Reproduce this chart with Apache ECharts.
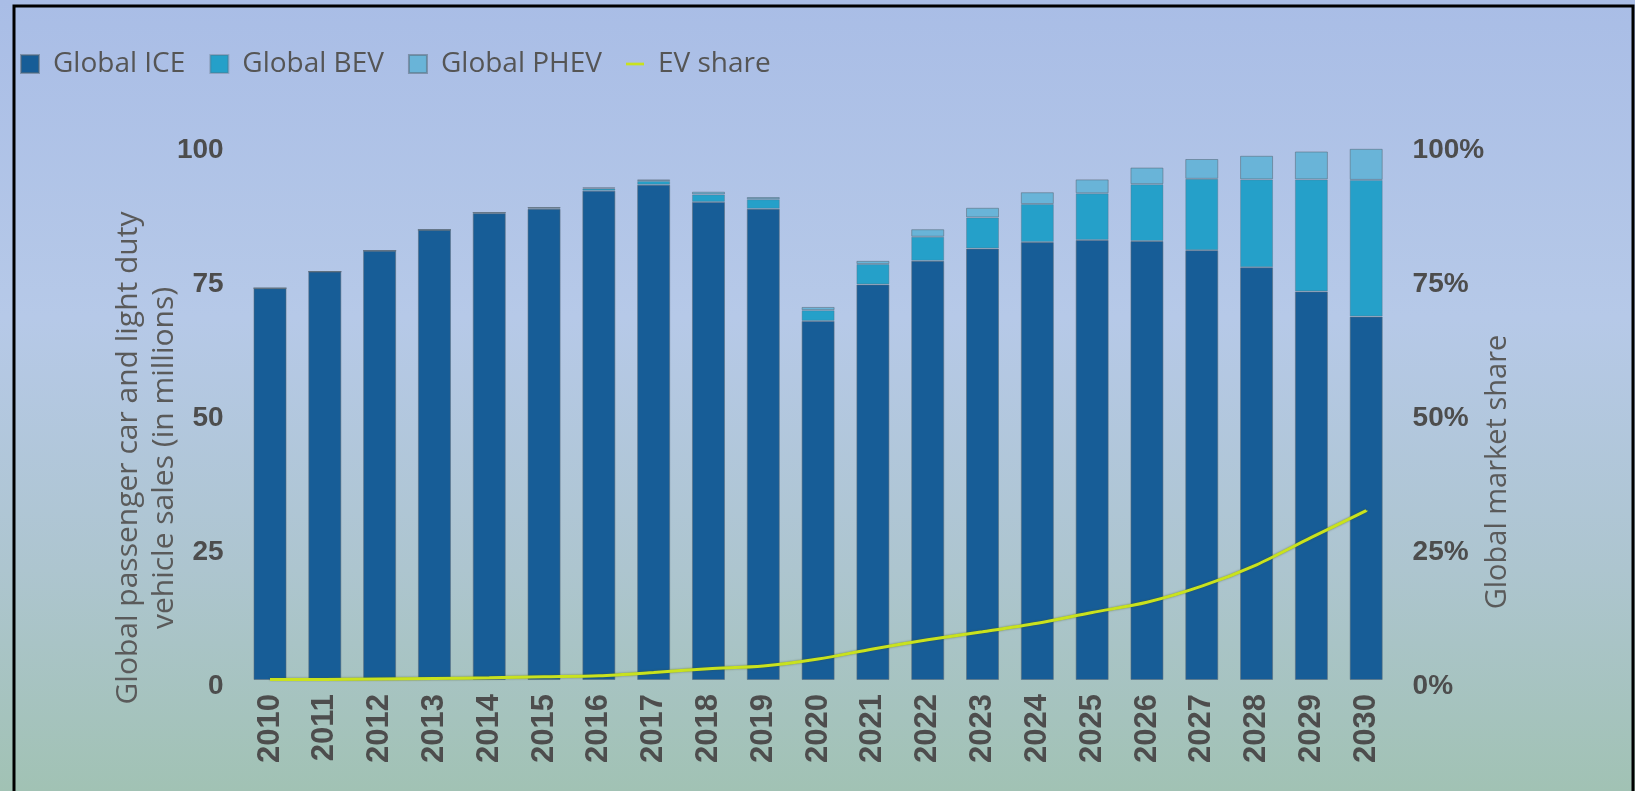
<!DOCTYPE html>
<html>
<head>
<meta charset="utf-8">
<style>
  html, body { margin: 0; padding: 0; }
  #main { width: 1635px; height: 791px; }
</style>
</head>
<body>
<div id="main"></div>
<script src="https://cdn.jsdelivr.net/npm/echarts@6/dist/echarts.min.js"></script>
<script type="text/javascript">
    // data (millions of vehicles, share in %)
    var years = ['2010', '2011', '2012', '2013', '2014', '2015', '2016', '2017', '2018', '2019', '2020',
                 '2021', '2022', '2023', '2024', '2025', '2026', '2027', '2028', '2029', '2030'];
    var iceSales  = [73.1, 76.2, 80.1, 84.0, 87.1, 87.9, 91.3, 92.4, 89.2, 87.9, 67.0,
                     73.8, 78.2, 80.5, 81.7, 82.1, 81.9, 80.2, 77.0, 72.5, 67.8];
    var bevSales  = [0, 0, 0, 0, 0.1, 0.2, 0.4, 0.7, 1.4, 1.8, 2.0,
                     3.8, 4.5, 5.8, 7.1, 8.7, 10.6, 13.3, 16.4, 20.9, 25.5];
    var phevSales = [0, 0, 0, 0, 0, 0.1, 0.2, 0.3, 0.5, 0.4, 0.6,
                     0.6, 1.4, 1.8, 2.2, 2.6, 3.1, 3.7, 4.4, 5.2, 5.8];
    var evShare   = [0.1, 0.1, 0.2, 0.3, 0.4, 0.6, 0.8, 1.4, 2.1, 2.6, 3.9,
                     5.8, 7.5, 9.0, 10.6, 12.6, 14.5, 17.5, 21.5, 26.6, 31.6];

    var boldFont = '"Liberation Sans", Arial, sans-serif';
    var plain = '"Open Sans", "Noto Sans", sans-serif';

    var myChart = echarts.init(document.getElementById('main'));

    // tick labels sit a little below their ticks in the original
    var tickRich = {
        t: {
            fontFamily: boldFont,
            fontWeight: 'bold',
            fontSize: 28,
            color: '#4d4d4d',
            padding: [13, 0, 0, 0]
        }
    };

    var option = {
        animation: false,
        backgroundColor: {
            type: 'linear', x: 0, y: 0, x2: 0, y2: 1,
            colorStops: [
                {offset: 0, color: '#a9bde6'},
                {offset: 0.4, color: '#b6c9e8'},
                {offset: 0.72, color: '#adc5cf'},
                {offset: 1, color: '#a1c2b4'}
            ]
        },
        graphic: [
            {
                type: 'rect',
                shape: {x: 14, y: 6, width: 1619, height: 900},
                style: {fill: 'none', stroke: '#000', lineWidth: 3},
                silent: true
            }
        ],
        legend: {
            left: 15,
            top: 45,
            itemWidth: 18,
            itemHeight: 18,
            itemGap: 24,
            textStyle: {
                fontFamily: plain,
                fontSize: 28,
                color: '#555',
                padding: [0, 0, 0, 9]
            },
            data: [
                {name: 'Global ICE', icon: 'rect'},
                {name: 'Global BEV', icon: 'rect'},
                {name: 'Global PHEV', icon: 'rect'},
                {name: 'EV share', icon: 'path://M0,0H20V3H0Z'}
            ]
        },
        grid: {
            left: 242.6,
            right: 241.4,
            top: 144,
            bottom: 111
        },
        xAxis: {
            type: 'category',
            data: years,
            axisLine: {show: false},
            axisTick: {show: false},
            axisLabel: {
                rotate: 90,
                margin: 14,
                fontFamily: boldFont,
                fontWeight: 'bold',
                fontSize: 31,
                color: '#4d4d4d'
            }
        },
        yAxis: [
            {
                type: 'value',
                min: 0,
                max: 100,
                interval: 25,
                splitLine: {show: false},
                axisLine: {show: false},
                axisTick: {show: false},
                axisLabel: {
                    margin: 19,
                    formatter: function (v) { return '{t|' + v + '}'; },
                    rich: tickRich
                },
                name: 'Global passenger car and light duty\nvehicle sales (in millions)',
                nameLocation: 'middle',
                nameRotate: 90,
                nameGap: 60,
                nameMoveOverlap: false,
                nameTextStyle: {
                    fontFamily: plain,
                    fontSize: 30,
                    lineHeight: 36,
                    color: '#5a5a5a',
                    padding: [0, 92, 0, 0]
                }
            },
            {
                type: 'value',
                min: 0,
                max: 100,
                interval: 25,
                position: 'right',
                splitLine: {show: false},
                axisLine: {show: false},
                axisTick: {show: false},
                axisLabel: {
                    margin: 19,
                    formatter: function (v) { return '{t|' + v + '%}'; },
                    rich: tickRich
                },
                name: 'Global market share',
                nameLocation: 'middle',
                nameRotate: 90,
                nameGap: 90,
                nameMoveOverlap: false,
                nameTextStyle: {
                    fontFamily: plain,
                    fontSize: 29,
                    color: '#5a5a5a',
                    padding: [0, 120, 0, 0]
                }
            }
        ],
        series: [
            {
                name: 'Global ICE',
                type: 'bar',
                stack: 'sales',
                barWidth: 33,
                itemStyle: {color: '#175d97', borderColor: 'rgba(90,105,120,0.55)', borderWidth: 1},
                data: iceSales
            },
            {
                name: 'Global BEV',
                type: 'bar',
                stack: 'sales',
                barWidth: 33,
                itemStyle: {color: '#25a0c9', borderColor: 'rgba(90,105,120,0.35)', borderWidth: 1},
                data: bevSales
            },
            {
                name: 'Global PHEV',
                type: 'bar',
                stack: 'sales',
                barWidth: 33,
                itemStyle: {color: '#69b4d8', borderColor: 'rgba(90,105,120,0.55)', borderWidth: 1},
                data: phevSales
            },
            {
                name: 'EV share',
                type: 'line',
                yAxisIndex: 1,
                smooth: 0.3,
                symbol: 'none',
                itemStyle: {color: '#c9e21e'},
                lineStyle: {
                    color: '#c9e21e',
                    width: 3,
                    shadowColor: 'rgba(70,80,20,0.6)',
                    shadowBlur: 2
                },
                data: evShare
            }
        ]
    };
    myChart.setOption(option);
</script>
</body>
</html>
